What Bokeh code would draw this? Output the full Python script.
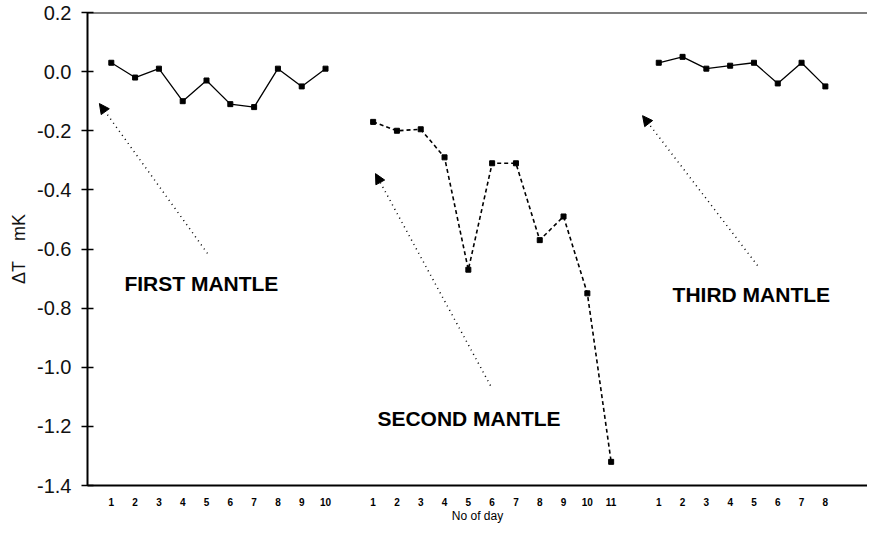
from bokeh.plotting import figure
from bokeh.models import FixedTicker, Span, Arrow, NormalHead, Label
from bokeh.embed import file_html
from bokeh.resources import INLINE

# ---- data ----
first_days = [1, 2, 3, 4, 5, 6, 7, 8, 9, 10]
first_dT = [0.03, -0.02, 0.01, -0.10, -0.03, -0.11, -0.12, 0.01, -0.05, 0.01]

second_days = [1, 2, 3, 4, 5, 6, 7, 8, 9, 10, 11]
second_dT = [-0.17, -0.20, -0.195, -0.29, -0.67, -0.31, -0.31, -0.57, -0.49, -0.75, -1.32]

third_days = [1, 2, 3, 4, 5, 6, 7, 8]
third_dT = [0.03, 0.05, 0.01, 0.02, 0.03, -0.04, 0.03, -0.05]

# each mantle is placed after the previous one on a shared axis
first_offset = 0
second_offset = 11
third_offset = 23

y_ticks = [-1.4, -1.2, -1.0, -0.8, -0.6, -0.4, -0.2, 0.0, 0.2]
y_tick_labels = ["-1.4", "-1.2", "-1.0", "-0.8", "-0.6", "-0.4", "-0.2", "0.0", "0.2"]

FONT = "Liberation Sans"

p = figure(width=867, height=528, output_backend="svg", toolbar_location=None,
           x_range=(0, 32.77), y_range=(-1.4, 0.2),
           min_border_left=87, min_border_right=0, min_border_top=12, min_border_bottom=43)
p.outline_line_color = None
p.xgrid.visible = False
p.ygrid.visible = False
p.background_fill_color = "white"
p.border_fill_color = "white"

# x positions from the day lists
x1 = [d + first_offset for d in first_days]
x2 = [d + second_offset for d in second_days]
x3 = [d + third_offset for d in third_days]

x_ticks = x1 + x2 + x3
x_labels = [str(d) for d in first_days + second_days + third_days]

p.xaxis.ticker = FixedTicker(ticks=x_ticks)
p.xaxis.major_label_overrides = {t: l for t, l in zip(x_ticks, x_labels)}
p.xaxis.major_tick_in = 0
p.xaxis.major_tick_out = 0
p.xaxis.minor_tick_in = 0
p.xaxis.minor_tick_out = 0
p.xaxis.axis_line_width = 2
p.xaxis.axis_line_color = "black"
p.xaxis.major_label_text_font = FONT
p.xaxis.major_label_text_font_size = "10px"
p.xaxis.major_label_text_font_style = "bold"
p.xaxis.major_label_text_color = "black"
p.xaxis.major_label_standoff = 12
p.xaxis.axis_label = "No of day"
p.xaxis.axis_label_text_font = FONT
p.xaxis.axis_label_text_font_size = "12px"
p.xaxis.axis_label_text_font_style = "normal"
p.xaxis.axis_label_text_color = "black"
p.xaxis.axis_label_standoff = 0

p.yaxis.ticker = FixedTicker(ticks=y_ticks)
p.yaxis.major_label_overrides = {t: l for t, l in zip(y_ticks, y_tick_labels)}
p.yaxis.major_tick_in = 6
p.yaxis.major_tick_out = 6
p.yaxis.minor_tick_in = 0
p.yaxis.minor_tick_out = 0
p.yaxis.major_tick_line_width = 1.5
p.yaxis.axis_line_width = 2
p.yaxis.axis_line_color = "black"
p.yaxis.major_label_text_font = FONT
p.yaxis.major_label_text_font_size = "20px"
p.yaxis.major_label_text_color = "#111111"
p.yaxis.major_label_standoff = 10
p.yaxis.axis_label = "\u0394T\u00a0\u00a0\u00a0\u00a0mK"
p.yaxis.axis_label_text_font = FONT
p.yaxis.axis_label_text_font_size = "18px"
p.yaxis.axis_label_text_font_style = "normal"
p.yaxis.axis_label_text_color = "#111111"
p.yaxis.axis_label_standoff = 5

# top border
p.add_layout(Span(location=0.2, dimension="width", line_color="black", line_width=2))

# series
p.line(x1, first_dT, line_color="black", line_width=1.3)
p.scatter(x1, first_dT, marker="square", size=5, color="black")

p.line(x2, second_dT, line_color="black", line_width=1.6, line_dash="4 3")
p.scatter(x2, second_dT, marker="square", size=5, color="black")

p.line(x3, third_dT, line_color="black", line_width=1.3)
p.scatter(x3, third_dT, marker="square", size=5, color="black")

# arrows (annotation positions)
arrows = [
    (5.04, -0.615, 0.50, -0.108),
    (16.93, -1.062, 12.10, -0.345),
    (28.15, -0.656, 23.32, -0.149),
]
for xs, ys, xe, ye in arrows:
    p.add_layout(Arrow(x_start=xs, y_start=ys, x_end=xe, y_end=ye,
                       line_color="black", line_width=1.5, line_dash="1 4",
                       end=NormalHead(size=10, fill_color="black", line_color="black")))

labels = [
    ("FIRST MANTLE", 1.55, -0.717),
    ("SECOND MANTLE", 12.18, -1.174),
    ("THIRD MANTLE", 24.58, -0.754),
]
for txt, lx, ly in labels:
    p.add_layout(Label(x=lx, y=ly, text=txt, text_font=FONT, text_font_size="21px",
                       text_font_style="bold", text_baseline="middle", text_align="left",
                       text_color="black"))

open("out.html", "w").write(file_html(p, INLINE))
